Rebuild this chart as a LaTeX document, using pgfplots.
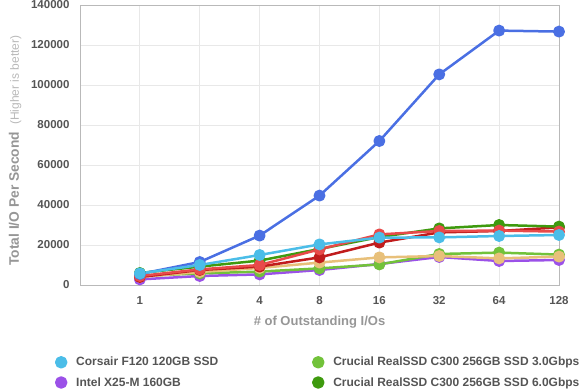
\documentclass[border=0pt]{standalone}
\usepackage{pgfplots}
\pgfplotsset{compat=1.18}
\usepackage{fontspec}
\setmainfont{Liberation Sans}
\definecolor{bigblue}{RGB}{74,111,227}
\definecolor{lblue}{RGB}{75,189,232}
\definecolor{cred}{RGB}{232,74,74}
\definecolor{dred}{RGB}{192,28,28}
\definecolor{dgreen}{RGB}{62,154,14}
\definecolor{lgreen}{RGB}{114,194,58}
\definecolor{tan}{RGB}{232,192,122}
\definecolor{cpurple}{RGB}{155,81,232}
\definecolor{ticktxt}{RGB}{85,85,85}
\definecolor{lbltxt}{RGB}{150,150,150}
\definecolor{lbltxt2}{RGB}{185,185,185}
\definecolor{gridc}{RGB}{232,232,232}
\definecolor{axc}{RGB}{185,185,185}
\begin{document}
\begin{tikzpicture}
\begin{axis}[
  scale only axis,
  width=479pt, height=280pt,
  xmin=-1, xmax=7,
  ymin=0, ymax=140000,
  xtick={0,...,7},
  xticklabels={1,2,4,8,16,32,64,128},
  ytick={0,20000,...,140000},
  scaled y ticks=false,
  /pgf/number format/fixed,
  /pgf/number format/1000 sep={},
  /pgf/number format/assume math mode=true,
  major tick length=0pt,
  grid=major,
  grid style={gridc, line width=0.8pt},
  axis line style={axc, line width=0.8pt},
  tick label style={font=\fontsize{11.5}{13}\selectfont\bfseries, text=ticktxt},
  yticklabel style={xshift=-7pt},
  xticklabel style={yshift=-8pt},
  xlabel={\fontsize{13}{15}\selectfont\bfseries \# of Outstanding I/O{s}},
  xlabel style={at={(axis description cs:0.5,0)}, anchor=center, yshift=-37pt, text=lbltxt},
  ylabel={{\fontsize{13.8}{15}\selectfont\bfseries\color{lbltxt}Total I/O Per Second}\hspace{7pt}{\fontsize{12}{13}\selectfont\color{lbltxt2}(Higher is better)}},
  ylabel style={at={(axis description cs:-0.1357,0.48)}, anchor=center, rotate=0},
  every axis plot/.append style={line width=2.5pt, mark=*, mark size=4.7pt, line join=round},
  legend columns=2,
  legend style={at={(axis description cs:0,0)}, anchor=north west, xshift=-27pt, yshift=-68pt,
    draw=none, fill=none, font=\fontsize{12}{14}\selectfont\bfseries, text=ticktxt,
    /tikz/every even column/.append style={column sep=93pt},
    /tikz/every odd column/.append style={column sep=8pt},
    row sep=6pt},
  legend cell align=left,
]
\addlegendimage{only marks, mark=*, mark size=5pt, lblue}
\addlegendentry{Corsair F120 120GB SSD}
\addlegendimage{only marks, mark=*, mark size=5pt, lgreen}
\addlegendentry{Crucial RealSSD C300 256GB SSD 3.0Gbps}
\addlegendimage{only marks, mark=*, mark size=5pt, cpurple}
\addlegendentry{Intel X25-M 160GB}
\addlegendimage{only marks, mark=*, mark size=5pt, dgreen}
\addlegendentry{Crucial RealSSD C300 256GB SSD 6.0Gbps}

% Intel X25-M
\addplot[cpurple, forget plot] coordinates {(0,2800) (1,4500) (2,5300) (3,7500) (4,10500) (5,14000) (6,12000) (7,12500)};
% C300 3.0
\addplot[lgreen, forget plot] coordinates {(0,4500) (1,5800) (2,6700) (3,8300) (4,10300) (5,15500) (6,16200) (7,15200)};
% tan
\addplot[tan, forget plot] coordinates {(0,4000) (1,6500) (2,8500) (3,11200) (4,13800) (5,14500) (6,13300) (7,14200)};
% dark red
\addplot[dred, forget plot] coordinates {(0,4000) (1,7500) (2,9200) (3,13800) (4,21200) (5,26300) (6,27000) (7,28800)};
% C300 6.0
\addplot[dgreen, forget plot] coordinates {(0,6000) (1,9200) (2,12200) (3,18000) (4,24000) (5,28300) (6,30000) (7,29200)};
% red
\addplot[cred, forget plot] coordinates {(0,4500) (1,7800) (2,10000) (3,17800) (4,25300) (5,27000) (6,27200) (7,26700)};
% big blue
\addplot[bigblue, forget plot] coordinates {(0,5500) (1,11500) (2,24700) (3,44700) (4,72000) (5,105300) (6,127200) (7,126700)};
% Corsair F120
\addplot[lblue, forget plot] coordinates {(0,5800) (1,10000) (2,15000) (3,20300) (4,23700) (5,23800) (6,24500) (7,25000)};
\end{axis}
\pgfresetboundingbox
\path[use as bounding box] (-80pt,-105pt) rectangle (500pt,285pt);
\end{tikzpicture}
\end{document}
